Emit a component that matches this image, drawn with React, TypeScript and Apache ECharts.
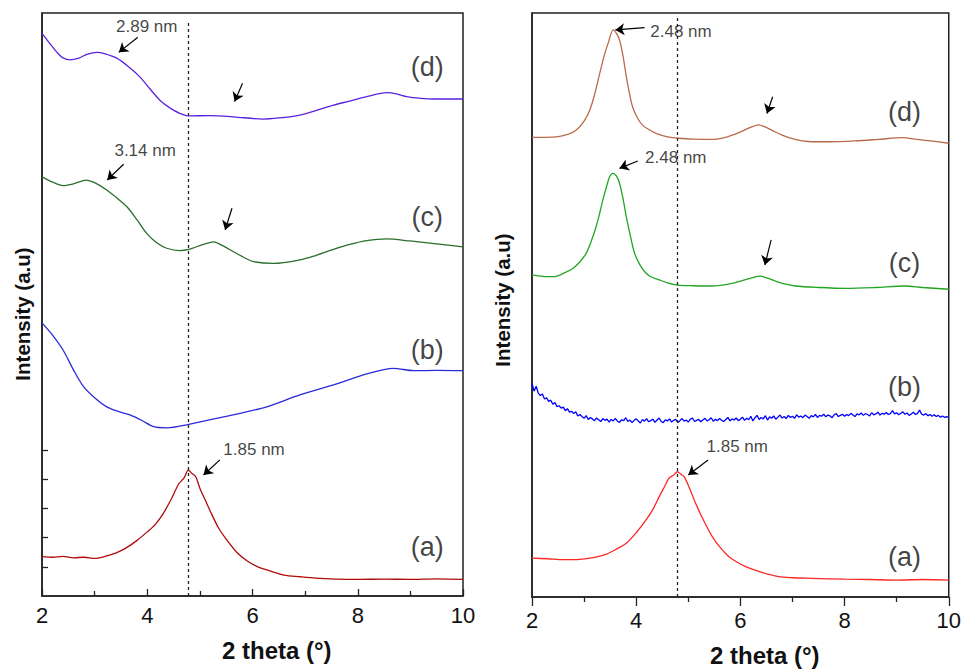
import React, { useEffect, useRef } from "react";
import * as echarts from "echarts";

// ---------- Data (2θ in degrees, intensity in arbitrary stacked units) ----------
const leftA: [number, number][] = [[2.0,1.35],[2.2,1.33],[2.4,1.36],[2.6,1.31],[2.8,1.33],[3.0,1.29],[3.2,1.36],[3.4,1.47],[3.6,1.65],[3.8,1.9],[4.0,2.2],[4.15,2.45],[4.3,2.82],[4.45,3.3],[4.6,3.85],[4.7,4.05],[4.78,4.32],[4.85,4.2],[4.92,4.1],[5.0,3.7],[5.1,3.3],[5.2,2.9],[5.35,2.35],[5.5,1.95],[5.7,1.5],[5.9,1.2],[6.1,1.0],[6.3,0.88],[6.6,0.72],[6.9,0.66],[7.2,0.61],[7.6,0.58],[8.0,0.57],[8.5,0.58],[9.0,0.57],[9.5,0.59],[10.0,0.57]];
const leftB: [number, number][] = [[2.0,9.37],[2.2,8.95],[2.4,8.44],[2.6,7.75],[2.79,7.18],[3.0,6.8],[3.23,6.49],[3.45,6.33],[3.67,6.21],[3.9,6.02],[4.12,5.81],[4.37,5.77],[4.79,5.89],[5.2,6.05],[5.63,6.21],[6.27,6.49],[6.9,6.9],[7.54,7.24],[8.17,7.62],[8.68,7.81],[9.06,7.73],[9.5,7.74],[10.0,7.73]];
const leftC: [number, number][] = [[2.0,14.38],[2.2,14.2],[2.4,14.08],[2.6,14.14],[2.84,14.27],[3.0,14.18],[3.23,13.93],[3.42,13.66],[3.61,13.36],[3.8,12.92],[3.99,12.44],[4.18,12.12],[4.37,11.93],[4.62,11.85],[4.79,11.89],[5.0,12.02],[5.26,12.15],[5.45,12.0],[5.64,11.81],[5.83,11.62],[6.02,11.47],[6.4,11.41],[6.9,11.53],[7.2,11.68],[7.54,11.89],[7.85,12.06],[8.17,12.19],[8.55,12.25],[8.99,12.18],[9.5,12.08],[10.0,11.98]];
const leftD: [number, number][] = [[2.0,19.3],[2.15,18.95],[2.3,18.62],[2.4,18.46],[2.53,18.39],[2.7,18.45],[2.85,18.58],[3.04,18.65],[3.2,18.6],[3.42,18.45],[3.65,18.15],[3.86,17.81],[4.05,17.4],[4.24,17.01],[4.45,16.72],[4.62,16.56],[4.79,16.47],[5.2,16.48],[5.64,16.44],[6.2,16.36],[6.5,16.4],[6.9,16.5],[7.2,16.65],[7.54,16.84],[7.85,16.98],[8.17,17.13],[8.55,17.27],[8.75,17.22],[8.93,17.13],[9.2,17.07],[9.44,17.05],[10.0,17.05]];

const rightA: [number, number][] = [[2.0,1.33],[2.3,1.31],[2.6,1.28],[2.92,1.29],[3.2,1.36],[3.43,1.47],[3.6,1.62],[3.81,1.84],[4.0,2.2],[4.19,2.64],[4.32,3.0],[4.44,3.43],[4.55,3.8],[4.63,4.07],[4.72,4.18],[4.79,4.29],[4.86,4.2],[4.92,4.12],[5.03,3.7],[5.14,3.21],[5.3,2.6],[5.46,2.07],[5.62,1.68],[5.78,1.38],[5.95,1.18],[6.1,1.04],[6.4,0.85],[6.73,0.7],[7.0,0.66],[7.37,0.64],[8.0,0.61],[8.5,0.6],[9.0,0.58],[9.5,0.6],[10.0,0.58]];
// noisy pattern (b), sampled every 0.04° from 2.00° to 10.00°
const rightBStart = 2.0;
const rightBStep = 0.04;
const rightBValues: number[] = [
  7.32,7.05,7.22,6.98,6.9,6.95,6.78,6.82,6.7,6.74,
  6.6,6.66,6.52,6.55,6.47,6.5,6.38,6.45,6.33,6.36,
  6.28,6.34,6.2,6.25,6.18,6.12,6.21,6.08,6.15,6.1,
  6.04,6.13,6.07,6.01,6.11,6.05,6.09,5.99,6.08,6.03,
  6.12,6.02,5.98,6.07,6.04,6.14,6.01,6.06,5.97,6.05,
  6.1,6.03,5.96,6.08,6.02,6.11,6.0,6.04,6.09,5.98,
  6.06,6.13,6.01,5.97,6.07,6.03,6.1,5.99,6.05,6.08,
  5.98,6.04,6.11,6.02,6.06,5.99,6.09,6.13,6.01,6.05,
  6.08,6.0,6.06,6.12,6.03,6.07,6.14,6.02,6.09,6.04,
  6.11,6.05,6.01,6.08,6.15,6.03,6.1,6.06,6.13,6.04,
  6.09,6.16,6.05,6.12,6.07,6.19,6.03,6.14,6.22,6.08,
  6.15,6.1,6.21,6.06,6.17,6.12,6.2,6.09,6.16,6.23,
  6.13,6.18,6.11,6.22,6.15,6.19,6.12,6.24,6.16,6.2,
  6.14,6.23,6.18,6.12,6.21,6.17,6.25,6.15,6.22,6.19,
  6.26,6.17,6.23,6.2,6.14,6.24,6.28,6.18,6.22,6.26,
  6.19,6.25,6.21,6.29,6.23,6.18,6.27,6.24,6.3,6.22,
  6.28,6.25,6.2,6.31,6.24,6.27,6.33,6.23,6.29,6.26,
  6.32,6.25,6.28,6.38,6.27,6.31,6.24,6.29,6.34,6.26,
  6.3,6.22,6.27,6.33,6.25,6.29,6.4,6.26,6.23,6.28,
  6.21,6.25,6.19,6.24,6.18,6.22,6.16,6.2,6.15,6.18,
  6.14,
];
const rightC: [number, number][] = [[2.0,11.03],[2.2,10.98],[2.41,10.97],[2.6,11.08],[2.79,11.26],[2.92,11.48],[3.04,11.77],[3.14,12.2],[3.23,12.68],[3.3,13.15],[3.36,13.6],[3.43,14.05],[3.49,14.39],[3.55,14.51],[3.62,14.42],[3.68,14.17],[3.75,13.62],[3.81,13.02],[3.89,12.35],[3.97,11.77],[4.08,11.35],[4.19,11.09],[4.3,10.95],[4.44,10.86],[4.6,10.76],[4.79,10.68],[5.1,10.66],[5.46,10.65],[5.75,10.71],[5.97,10.8],[6.2,10.92],[6.38,10.99],[6.52,10.92],[6.67,10.82],[6.85,10.72],[7.05,10.65],[7.5,10.6],[8.01,10.57],[8.6,10.6],[9.15,10.65],[9.5,10.6],[10.0,10.54]];
const rightD: [number, number][] = [[2.0,15.74],[2.47,15.76],[2.7,15.85],[2.85,15.99],[3.0,16.3],[3.11,16.68],[3.2,17.2],[3.3,17.93],[3.38,18.5],[3.46,18.96],[3.56,19.42],[3.62,19.3],[3.68,19.08],[3.75,18.5],[3.81,17.82],[3.87,17.25],[3.93,16.79],[4.02,16.42],[4.12,16.16],[4.25,16.0],[4.38,15.88],[4.6,15.76],[4.82,15.71],[5.1,15.68],[5.46,15.67],[5.75,15.76],[5.97,15.9],[6.15,16.05],[6.35,16.17],[6.47,16.1],[6.6,15.99],[6.8,15.82],[7.05,15.67],[7.3,15.6],[7.69,15.59],[8.2,15.62],[8.64,15.67],[9.12,15.73],[9.35,15.68],[9.6,15.63],[10.0,15.54]];

const X_MIN = 2;
const X_MAX = 10;
const X_INTERVAL = 2;
const Y_MIN = 0;
const Y_MAX = 20;
const LEFT_Y_TICKS = [1, 2, 3, 4, 5];
const REF_LINE_X = 4.78; // 1.85 nm reflection

const curveLabels = ["(a)", "(b)", "(c)", "(d)"];
const leftColors = ["#b00a0a", "#2a2ad8", "#2a6e2a", "#5a22e0"];
const rightColors = ["#ff2626", "#0000ff", "#22a522", "#b86a4a"];

// annotation texts: [2θ, intensity, text]
const leftTexts: [number, number, string][] = [
  [3.99, 19.55, "2.89 nm"],
  [3.96, 15.3, "3.14 nm"],
  [6.03, 5.01, "1.85 nm"],
];
const leftCurveLabelPos: [number, number][] = [[9.32, 1.68], [9.32, 8.44], [9.32, 13.0], [9.32, 18.15]];
const rightTexts: [number, number, string][] = [
  [4.86, 19.38, "2.48 nm"],
  [4.76, 15.06, "2.48 nm"],
  [5.94, 5.15, "1.85 nm"],
];
const rightCurveLabelPos: [number, number][] = [[9.15, 1.38], [9.15, 7.2], [9.15, 11.44], [9.15, 16.62]];

// arrows: [from2θ, fromI, to2θ, toI]
const leftArrows: [number, number, number, number][] = [
  [3.82, 19.17, 3.46, 18.65],
  [3.55, 14.81, 3.24, 14.27],
  [5.81, 17.59, 5.66, 16.96],
  [5.61, 13.3, 5.48, 12.56],
  [5.38, 4.67, 5.07, 4.15],
];
const rightArrows: [number, number, number, number][] = [
  [4.16, 19.5, 3.6, 19.42],
  [4.03, 14.93, 3.68, 14.68],
  [6.62, 17.13, 6.51, 16.56],
  [6.59, 12.23, 6.47, 11.37],
  [5.38, 4.69, 5.0, 4.18],
];

const FONT = "'Liberation Sans', Arial, sans-serif";

function buildRightB(): [number, number][] {
  return rightBValues.map((v, i) => [+(rightBStart + i * rightBStep).toFixed(2), v]);
}

export default function App() {
  const ref = useRef<HTMLDivElement>(null);

  useEffect(() => {
    if (!ref.current) return;
    const chart = echarts.init(ref.current, undefined, { renderer: "svg" });

    const curve = (data: [number, number][], color: string, idx: number, smooth: number | boolean) => ({
      type: "line",
      xAxisIndex: idx,
      yAxisIndex: idx,
      data,
      smooth,
      showSymbol: false,
      symbol: "none",
      lineStyle: { color, width: 1.3 },
      silent: true,
      z: 3,
    });

    const annot = (idx: number, texts: [number, number, string][], labelPos: [number, number][], arrows: [number, number, number, number][], topY: number) => [
      {
        type: "scatter",
        xAxisIndex: idx,
        yAxisIndex: idx,
        symbolSize: 1,
        itemStyle: { color: "rgba(0,0,0,0)" },
        silent: true,
        z: 5,
        data: texts.map((t) => ({ value: [t[0], t[1]], name: t[2] })),
        label: {
          show: true,
          position: "inside",
          formatter: (p: any) => p.name,
          color: "#111",
          fontSize: 17,
          fontFamily: FONT,
        },
        markLine: {
          silent: true,
          animation: false,
          label: { show: false },
          emphasis: { disabled: true },
          symbolSize: 9,
          lineStyle: { color: "#000", width: 1.2, type: "solid" },
          data: [
            [
              { coord: [REF_LINE_X, Y_MIN], symbol: "none", lineStyle: { color: "#222", width: 1.3, type: [3, 3] } },
              { coord: [REF_LINE_X, topY], symbol: "none" },
            ],
            ...arrows.map((a) => [
              { coord: [a[0], a[1]], symbol: "none" },
              { coord: [a[2], a[3]], symbol: "arrow" },
            ]),
          ],
        },
      },
      {
        type: "scatter",
        xAxisIndex: idx,
        yAxisIndex: idx,
        symbolSize: 1,
        itemStyle: { color: "rgba(0,0,0,0)" },
        silent: true,
        z: 5,
        data: labelPos.map((p, i) => ({ value: p, name: curveLabels[i] })),
        label: {
          show: true,
          position: "inside",
          formatter: (p: any) => p.name,
          color: "#111",
          fontSize: 27,
          fontFamily: FONT,
        },
      },
    ];

    const xAxis = (idx: number, inside: boolean, labelMargin: number) => ({
      type: "value",
      gridIndex: idx,
      min: X_MIN,
      max: X_MAX,
      interval: X_INTERVAL,
      axisLine: { show: true, lineStyle: { color: "#222", width: 1.5 } },
      axisTick: { show: true, inside, length: inside ? 7 : 9, lineStyle: { color: "#222", width: 1.3 } },
      minorTick: { show: true, splitNumber: 2, length: 5, lineStyle: { color: "#222", width: 1.3 } },
      splitLine: { show: false },
      axisLabel: { color: "#111", fontSize: 22, fontFamily: FONT, margin: labelMargin },
    });

    const option: any = {
      animation: false,
      backgroundColor: "#fff",
      grid: [
        { left: 42, top: 13, width: 421, height: 583, show: true, borderColor: "#222", borderWidth: 1.5, backgroundColor: "transparent" },
        { left: 532, top: 13, width: 419, height: 584, show: true, borderColor: "#222", borderWidth: 1.5, backgroundColor: "transparent" },
      ],
      xAxis: [xAxis(0, true, 8), xAxis(1, false, 12)],
      yAxis: [
        {
          type: "value",
          gridIndex: 0,
          min: Y_MIN,
          max: Y_MAX,
          interval: 1,
          axisLine: { show: true, lineStyle: { color: "#222", width: 1.5 } },
          axisTick: { show: true, inside: true, length: 6, customValues: LEFT_Y_TICKS, lineStyle: { color: "#222", width: 1.3 } },
          axisLabel: { show: false },
          splitLine: { show: false },
        },
        {
          type: "value",
          gridIndex: 1,
          min: Y_MIN,
          max: Y_MAX,
          axisLine: { show: true, lineStyle: { color: "#222", width: 1.5 } },
          axisTick: { show: false },
          axisLabel: { show: false },
          splitLine: { show: false },
        },
      ],
      graphic: [
        { type: "text", left: 279 - 57, top: 652 - 14, style: { text: "2 theta (°)", fontSize: 24, fontWeight: "bold", fontFamily: FONT, fill: "#111" } },
        { type: "text", left: 767 - 57, top: 643, style: { text: "2 theta (°)", fontSize: 24, fontWeight: "bold", fontFamily: FONT, fill: "#111" } },
        { type: "text", x: 22, y: 314, rotation: Math.PI / 2, style: { text: "Intensity (a.u)", fontSize: 20.5, fontWeight: "bold", fontFamily: FONT, fill: "#111", align: "center", verticalAlign: "middle" } },
        { type: "text", x: 502, y: 300, rotation: Math.PI / 2, style: { text: "Intensity (a.u)", fontSize: 20.5, fontWeight: "bold", fontFamily: FONT, fill: "#111", align: "center", verticalAlign: "middle" } },
      ],
      series: [
        curve(leftA, leftColors[0], 0, 0.3),
        curve(leftB, leftColors[1], 0, 0.3),
        curve(leftC, leftColors[2], 0, 0.3),
        curve(leftD, leftColors[3], 0, 0.3),
        curve(rightA, rightColors[0], 1, 0.3),
        curve(buildRightB(), rightColors[1], 1, false),
        curve(rightC, rightColors[2], 1, 0.3),
        curve(rightD, rightColors[3], 1, 0.3),
        ...annot(0, leftTexts, leftCurveLabelPos, leftArrows, 19.76),
        ...annot(1, rightTexts, rightCurveLabelPos, rightArrows, 19.9),
      ],
    };

    chart.setOption(option);
    return () => chart.dispose();
  }, []);

  return (
    <div
      ref={ref}
      style={{ position: "fixed", left: 0, top: 0, width: 964, height: 671, background: "#fff" }}
    />
  );
}
